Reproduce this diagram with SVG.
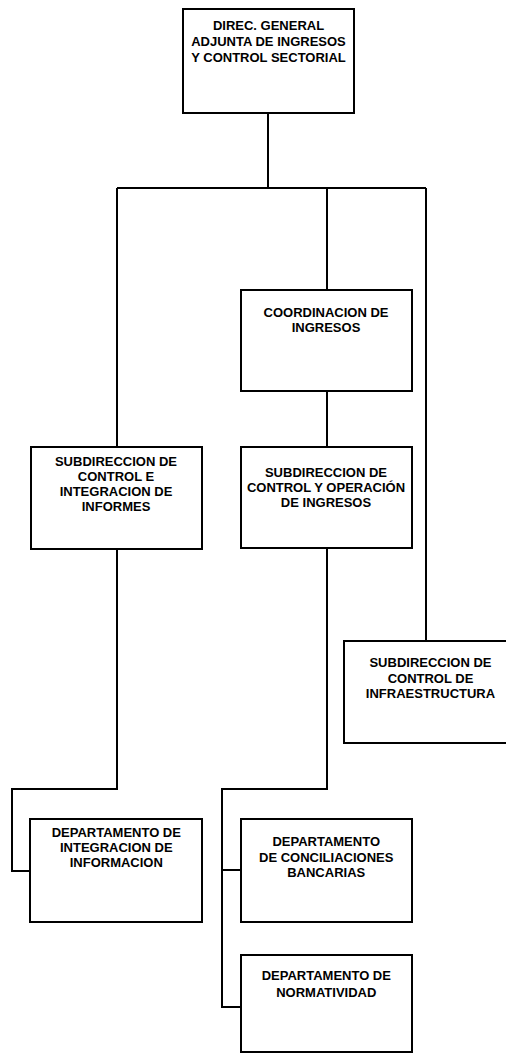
<svg xmlns="http://www.w3.org/2000/svg" width="506" height="1055" viewBox="0 0 506 1055">
<style>
.box{fill:#fff;stroke:#000;stroke-width:2}
.t{font-family:"Liberation Sans",Arial,sans-serif;font-weight:bold;font-size:13px;text-anchor:middle;fill:#000}
.c{fill:none;stroke:#000;stroke-width:2}
</style>
<rect width="506" height="1055" fill="#fff"/>
<g id="connectors">
<path class="c" d="M268 113V188M117 188H426M117 188V447M327 188V290M426 188V641M327 391V447"/>
<path class="c" d="M117 549V789H12V871H30"/>
<path class="c" d="M327 548V789H222V1007H241M222 870H241"/>
</g>
<g id="n-direc">
<rect class="box" x="183" y="9" width="171" height="104"/>
<text class="t" x="268.5" y="30">DIREC. GENERAL</text>
<text class="t" x="268.5" y="46">ADJUNTA DE INGRESOS</text>
<text class="t" x="268.5" y="62">Y CONTROL SECTORIAL</text>
</g>
<g id="n-coord">
<rect class="box" x="241" y="290" width="171" height="101"/>
<text class="t" x="326" y="317">COORDINACION DE</text>
<text class="t" x="326" y="332">INGRESOS</text>
</g>
<g id="n-sub-ci">
<rect class="box" x="31" y="447" width="171" height="102"/>
<text class="t" x="116" y="466">SUBDIRECCION DE</text>
<text class="t" x="116" y="481">CONTROL E</text>
<text class="t" x="116" y="496">INTEGRACION DE</text>
<text class="t" x="116" y="511">INFORMES</text>
</g>
<g id="n-sub-co">
<rect class="box" x="241" y="447" width="171" height="101"/>
<text class="t" x="326" y="477">SUBDIRECCION DE</text>
<text class="t" x="326" y="492">CONTROL Y OPERACIÓN</text>
<text class="t" x="326" y="507">DE INGRESOS</text>
</g>
<g id="n-sub-inf">
<rect class="box" x="344" y="641" width="171" height="102"/>
<text class="t" x="430.5" y="667">SUBDIRECCION DE</text>
<text class="t" x="430.5" y="682.5">CONTROL DE</text>
<text class="t" x="430.5" y="698">INFRAESTRUCTURA</text>
</g>
<g id="n-dep-ii">
<rect class="box" x="30" y="819" width="172" height="103"/>
<text class="t" x="116.3" y="837">DEPARTAMENTO DE</text>
<text class="t" x="116.3" y="852">INTEGRACION DE</text>
<text class="t" x="116.3" y="867">INFORMACION</text>
</g>
<g id="n-dep-cb">
<rect class="box" x="241" y="819" width="171" height="103"/>
<text class="t" x="326.2" y="846">DEPARTAMENTO</text>
<text class="t" x="326.2" y="861.5">DE CONCILIACIONES</text>
<text class="t" x="326.2" y="877">BANCARIAS</text>
</g>
<g id="n-dep-norm">
<rect class="box" x="241" y="955" width="171" height="97"/>
<text class="t" x="326.3" y="980">DEPARTAMENTO DE</text>
<text class="t" x="326.3" y="997">NORMATIVIDAD</text>
</g>
</svg>
